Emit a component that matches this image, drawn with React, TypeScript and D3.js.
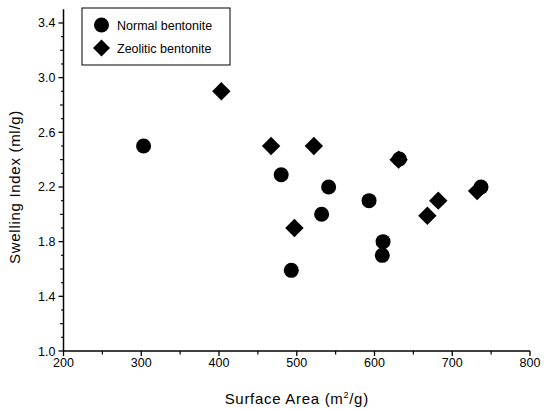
import React from "react";
import * as d3 from "d3";

const normalX = [303, 480, 541, 532, 493, 593, 611, 610, 632, 737];
const normalY = [2.5, 2.29, 2.2, 2.0, 1.59, 2.1, 1.8, 1.7, 2.405, 2.2];
const zeoliticX = [403, 467, 522, 497, 631, 682, 668, 732];
const zeoliticY = [2.9, 2.5, 2.5, 1.9, 2.4, 2.1, 1.99, 2.17];
const xTicks = [200, 300, 400, 500, 600, 700, 800];
const yTicks = [1.0, 1.4, 1.8, 2.2, 2.6, 3.0, 3.4];
const legendLabels = ["Normal bentonite", "Zeolitic bentonite"];

const W = 544;
const H = 409;
const FONT = "'Liberation Sans', Arial, sans-serif";

export default function App() {
  const x = d3.scaleLinear().domain([200, 800]).range([63.5, 530]);
  const y = d3.scaleLinear().domain([1.0, 3.5]).range([351, 9.3]);
  const y0 = y(1.0);
  const x0 = x(200);

  const xMinor = d3.range(250, 800, 100);
  const yMinor = d3.range(1.1, 3.45, 0.1).filter(
    (v) => !yTicks.some((t) => Math.abs(t - v) < 1e-6)
  );

  const circle = d3.symbol().type(d3.symbolCircle).size(Math.PI * 7.5 * 7.5);
  const diamond = (cx: number, cy: number, r: number) =>
    `M${cx},${cy - r}L${cx + r},${cy}L${cx},${cy + r}L${cx - r},${cy}Z`;

  return (
    <svg
      width={W}
      height={H}
      style={{ position: "absolute", left: 0, top: 0, background: "#fff" }}
    >
      <rect x={0} y={0} width={W} height={H} fill="#fff" />
      {/* axes */}
      <line x1={x0} x2={x0} y1={y0} y2={y(3.5)} stroke="#000" strokeWidth={1.5} />
      <line x1={x0} x2={x(800)} y1={y0} y2={y0} stroke="#000" strokeWidth={1.5} />
      {xTicks.map((t) => (
        <g key={"xt" + t}>
          <line x1={x(t)} x2={x(t)} y1={y0} y2={y0 + 5} stroke="#000" strokeWidth={1.3} />
          <text
            x={x(t)}
            y={y0 + 16}
            textAnchor="middle"
            fontFamily={FONT}
            fontSize={12.5}
            fill="#000"
          >
            {t}
          </text>
        </g>
      ))}
      {xMinor.map((t) => (
        <line key={"xm" + t} x1={x(t)} x2={x(t)} y1={y0} y2={y0 + 3.5} stroke="#000" strokeWidth={1.2} />
      ))}
      {yTicks.map((t) => (
        <g key={"yt" + t}>
          <line x1={x0 - 5} x2={x0} y1={y(t)} y2={y(t)} stroke="#000" strokeWidth={1.3} />
          <text
            x={x0 - 8}
            y={y(t) + 4.5}
            textAnchor="end"
            fontFamily={FONT}
            fontSize={12.5}
            fill="#000"
          >
            {t.toFixed(1)}
          </text>
        </g>
      ))}
      {yMinor.map((t, i) => (
        <line
          key={"ym" + i}
          x1={x0 - (Math.round(t * 10) % 2 === 0 ? 3.5 : 2.5)}
          x2={x0}
          y1={y(t)}
          y2={y(t)}
          stroke="#000"
          strokeWidth={1.1}
        />
      ))}
      {/* axis titles */}
      <text
        x={(x0 + x(800)) / 2}
        y={404}
        textAnchor="middle"
        fontFamily={FONT}
        fontSize={15}
        letterSpacing={0.7}
        fill="#000"
      >
        Surface Area (m
        <tspan fontSize={9} dy={-6}>2</tspan>
        <tspan dy={6}>/g)</tspan>
      </text>
      <text
        transform={`translate(20,${(y0 + y(3.4)) / 2}) rotate(-90)`}
        textAnchor="middle"
        fontFamily={FONT}
        fontSize={15}
        letterSpacing={0.7}
        fill="#000"
      >
        Swelling Index (ml/g)
      </text>
      {/* data */}
      {normalX.map((v, i) => (
        <path
          key={"n" + i}
          d={circle() as string}
          transform={`translate(${x(v)},${y(normalY[i])})`}
          fill="#000"
        />
      ))}
      {zeoliticX.map((v, i) => (
        <path key={"z" + i} d={diamond(x(v), y(zeoliticY[i]), 9.2)} fill="#000" />
      ))}
      {/* legend */}
      <rect x={82} y={8} width={148} height={57} fill="#fff" stroke="#000" strokeWidth={1} />
      <path d={circle() as string} transform="translate(101.5,25)" fill="#000" />
      <path d={diamond(101.5, 48, 8.5)} fill="#000" />
      <text x={117} y={29.5} fontFamily={FONT} fontSize={12.5} fill="#000">
        {legendLabels[0]}
      </text>
      <text x={117} y={52.5} fontFamily={FONT} fontSize={12.5} fill="#000">
        {legendLabels[1]}
      </text>
    </svg>
  );
}
